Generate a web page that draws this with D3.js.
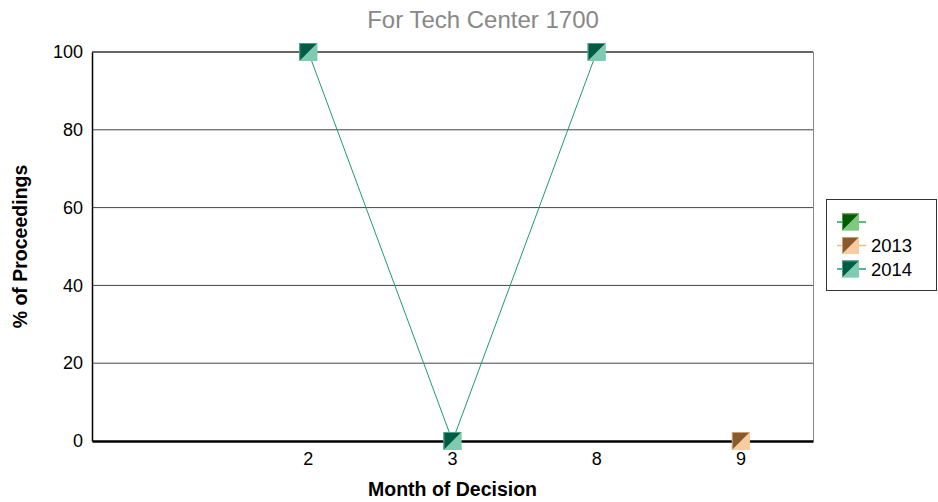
<!DOCTYPE html>
<html>
<head>
<meta charset="utf-8">
<script src="https://cdn.jsdelivr.net/npm/d3@7"></script>
<style>
  body { margin: 0; background: #fff; }
  text { font-family: "Liberation Sans", Arial, sans-serif; }
</style>
</head>
<body>
<div id="chart"></div>
<script>
const categories = ['', '2', '3', '8', '9'];
const seriesNames = ['', '2013', '2014'];
const valuesBlank = [null, null, null, null, null];
const values2013 = [null, null, null, null, 0];
const values2014 = [null, 100, 0, 100, null];
const yTicks = [0, 20, 40, 60, 80, 100];

const series = [
  {name: seriesNames[0], values: valuesBlank, dark: '#005a00', light: '#80c880', line: '#2e9e4e'},
  {name: seriesNames[1], values: values2013, dark: '#8a5a2c', light: '#f9cba0', line: '#f2b886'},
  {name: seriesNames[2], values: values2014, dark: '#005c45', light: '#7fcbb2', line: '#1f9a74'}
];

const width = 938, height = 502;
const margin = {top: 52, right: 125, bottom: 61, left: 92};
const gWidth = width - margin.left - margin.right;
const gHeight = height - margin.top - margin.bottom;

const svg = d3.select('#chart')
  .append('svg')
  .attr('width', width)
  .attr('height', height);

const g = svg.append('g')
  .attr('transform', `translate(${margin.left}, ${margin.top})`);

const xScale = d3.scaleBand()
  .domain(d3.range(categories.length))
  .range([0, gWidth]);
const yScale = d3.scaleLinear()
  .domain([0, 100])
  .range([gHeight, 0]);

// horizontal grid lines
g.selectAll('line.grid')
  .data(yTicks.filter(d => d > 0))
  .enter()
  .append('line')
  .attr('class', 'grid')
  .attr('x1', 0)
  .attr('x2', gWidth)
  .attr('y1', d => yScale(d))
  .attr('y2', d => yScale(d))
  .attr('stroke', d => d === 100 ? '#333' : '#444')
  .attr('stroke-width', d => d === 100 ? 1.5 : 1);

// right border
g.append('line')
  .attr('x1', gWidth + 0.5).attr('x2', gWidth + 0.5)
  .attr('y1', 0).attr('y2', gHeight)
  .attr('stroke', '#888');

// y axis
const yAxis = g.append('g')
  .call(d3.axisLeft(yScale).tickValues(yTicks).tickSize(0).tickPadding(9));
yAxis.attr('font-size', null).attr('font-family', null);
yAxis.select('.domain').attr('stroke', '#000').attr('stroke-width', 1.5);
yAxis.selectAll('text').style('font-size', '18px').attr('fill', '#000');

// x axis
const xAxis = g.append('g')
  .attr('transform', `translate(0, ${gHeight})`)
  .call(d3.axisBottom(xScale).tickFormat(i => categories[i]).tickSize(0).tickPadding(11));
xAxis.attr('font-size', null).attr('font-family', null);
xAxis.select('.domain').attr('stroke', '#000').attr('stroke-width', 2.5);
xAxis.selectAll('text').style('font-size', '18px').attr('fill', '#000');

// lines and markers
const cx = i => xScale(i) + xScale.bandwidth() / 2;
const ms = 18;

series.forEach(s => {
  const pts = s.values.map((v, i) => ({i, v})).filter(d => d.v !== null);
  g.append('path')
    .datum(pts)
    .attr('fill', 'none')
    .attr('stroke', s.line)
    .attr('stroke-width', 1)
    .attr('d', d3.line().x(d => cx(d.i)).y(d => yScale(d.v)));
});

const drawMarker = (sel, x, y, s, size) => {
  const h = size / 2;
  sel.append('rect')
    .attr('x', x - h).attr('y', y - h)
    .attr('width', size).attr('height', size)
    .attr('fill', s.light);
  sel.append('path')
    .attr('d', `M${x - h},${y - h}L${x + h},${y - h}L${x - h},${y + h}Z`)
    .attr('fill', s.dark);
  sel.append('rect')
    .attr('x', x - h + 0.5).attr('y', y - h + 0.5)
    .attr('width', size - 1).attr('height', size - 1)
    .attr('fill', 'none')
    .attr('stroke', s.light)
    .attr('stroke-opacity', 0.6);
};

series.forEach(s => {
  s.values.forEach((v, i) => {
    if (v === null) return;
    drawMarker(g.append('g'), cx(i), yScale(v), s, ms);
  });
});

// title
svg.append('text')
  .attr('x', 483)
  .attr('y', 28)
  .attr('text-anchor', 'middle')
  .style('font-size', '24px')
  .attr('fill', '#888')
  .text('For Tech Center 1700');

// axis titles
svg.append('text')
  .attr('x', margin.left + gWidth / 2)
  .attr('y', 496)
  .attr('text-anchor', 'middle')
  .style('font-size', '19.5px')
  .attr('font-weight', 'bold')
  .text('Month of Decision');

svg.append('text')
  .attr('transform', `translate(27, ${margin.top + gHeight / 2}) rotate(-90)`)
  .attr('text-anchor', 'middle')
  .style('font-size', '19.5px')
  .attr('font-weight', 'bold')
  .text('% of Proceedings');

// legend
const legend = svg.append('g').attr('transform', 'translate(826, 199)');
legend.append('rect')
  .attr('x', 0.5).attr('y', 0.5)
  .attr('width', 110).attr('height', 91)
  .attr('fill', '#fff')
  .attr('stroke', '#333');

series.forEach((s, k) => {
  const y = 23 + k * 23.5;
  legend.append('line')
    .attr('x1', 11).attr('x2', 40)
    .attr('y1', y).attr('y2', y)
    .attr('stroke', s.line)
    .attr('stroke-width', 1.5);
  drawMarker(legend.append('g'), 24.5, y, s, 17);
  legend.append('text')
    .attr('x', 45)
    .attr('y', y + 6.5)
    .style('font-size', '18.5px')
    .text(s.name);
});
</script>
</body>
</html>
